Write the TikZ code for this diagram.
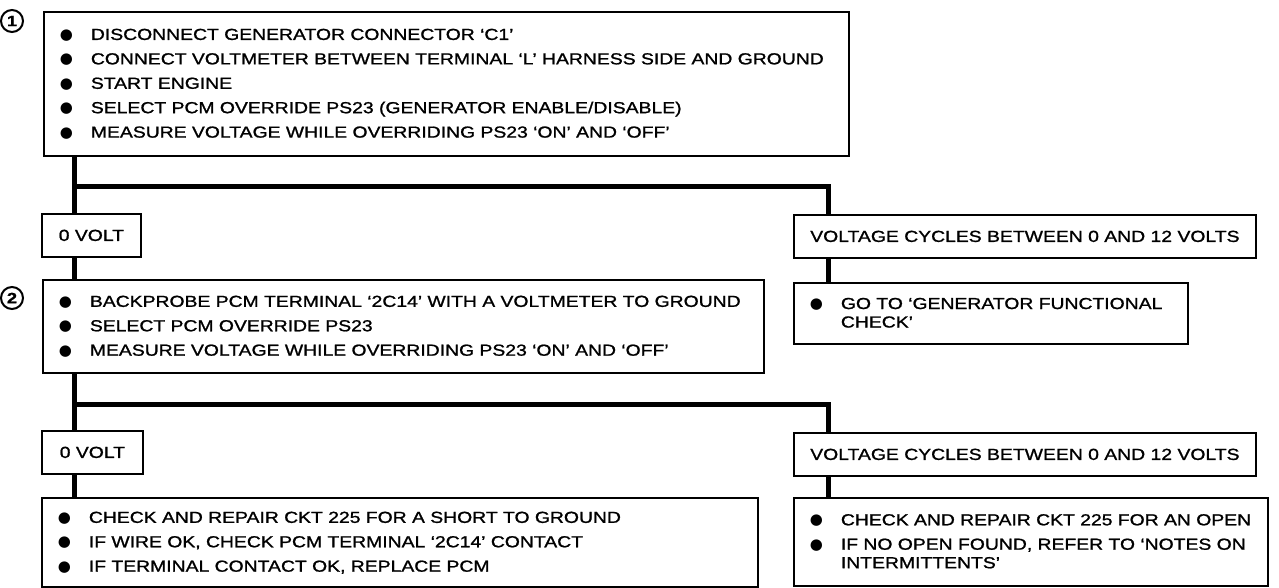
\documentclass[tikz,border=0pt]{standalone}
\usepackage{fontspec}
\setmainfont{Liberation Sans}[FakeStretch=1.21,FakeBold=1.2]
\newfontfamily\dotfont{DejaVu Sans}
\usepackage{array}
\renewcommand{\arraystretch}{1.32}
\newcommand{\blt}{\raisebox{0.6pt}{\dotfont\fontsize{15}{15}\selectfont ●}}
\newcommand{\checklist}[2]{\begin{tabular}{@{}p{31pt}@{}>{\raggedright\arraybackslash}p{#1}@{}}#2\end{tabular}}

\begin{document}
\begin{tikzpicture}[x=1pt,y=-1pt,
  font=\fontsize{16}{18.5}\selectfont,
  box/.style={draw,line width=1.8pt,anchor=north west,inner xsep=16pt,inner ysep=0pt,align=left},
  lbl/.style={draw,line width=1.8pt,anchor=north west,inner sep=0pt,minimum height=43pt},
  num/.style={draw,circle,line width=2pt,inner sep=0pt,minimum size=22pt,font=\fontsize{15}{15}\selectfont\bfseries},
  wire/.style={line width=5pt}]
\useasboundingbox (0,0) rectangle (1279,588);

\node (n1) [num] at (12,21) {1};
\node (box1) [box,text width=773pt,minimum height=144pt] at (43,11) {\checklist{760pt}{
  \blt & DISCONNECT GENERATOR CONNECTOR `C1' \\
  \blt & CONNECT VOLTMETER BETWEEN TERMINAL `L' HARNESS SIDE AND GROUND \\
  \blt & START ENGINE \\
  \blt & SELECT PCM OVERRIDE PS23 (GENERATOR ENABLE/DISABLE) \\
  \blt & MEASURE VOLTAGE WHILE OVERRIDING PS23 `ON' AND `OFF'}};

\node (volt1) [lbl,minimum width=99pt] at (41,213) {0 VOLT};
\node (cyc1) [lbl,minimum width=462pt] at (793,214) {VOLTAGE CYCLES BETWEEN 0 AND 12 VOLTS};

\node (n2) [num] at (12,298) {2};
\node (box2) [box,text width=689pt,minimum height=93pt] at (42,279) {\checklist{680pt}{
  \blt & BACKPROBE PCM TERMINAL `2C14' WITH A VOLTMETER TO GROUND \\
  \blt & SELECT PCM OVERRIDE PS23 \\
  \blt & MEASURE VOLTAGE WHILE OVERRIDING PS23 `ON' AND `OFF'}};
\node (goto) [box,text width=362pt,minimum height=61pt] at (793,282) {\checklist{360pt}{
  \blt & GO TO `GENERATOR FUNCTIONAL\newline CHECK'}};

\node (volt2) [lbl,minimum width=101pt] at (41,430) {0 VOLT};
\node (cyc2) [lbl,minimum width=462pt] at (793,432) {VOLTAGE CYCLES BETWEEN 0 AND 12 VOLTS};

\node (fix1) [box,text width=684pt,minimum height=89pt] at (41,497) {\checklist{680pt}{
  \blt & CHECK AND REPAIR CKT 225 FOR A SHORT TO GROUND \\
  \blt & IF WIRE OK, CHECK PCM TERMINAL `2C14' CONTACT \\
  \blt & IF TERMINAL CONTACT OK, REPLACE PCM}};
\node (fix2) [box,text width=442pt,minimum height=88pt] at (793,497) {\checklist{440pt}{
  \blt & CHECK AND REPAIR CKT 225 FOR AN OPEN \\
  \blt & IF NO OPEN FOUND, REFER TO `NOTES ON\newline INTERMITTENTS'}};

\coordinate (j1) at (74,187);
\coordinate (k1) at (828,187);
\coordinate (j2) at (74,404);
\coordinate (k2) at (828,404);

\draw[wire] (box1.south -| j1) -- (volt1.north -| j1);
\draw[wire] (j1) -- (k1) -- (cyc1.north -| k1);
\draw[wire] (cyc1.south -| k1) -- (goto.north -| k1);
\draw[wire] (volt1.south -| j1) -- (box2.north -| j1);
\draw[wire] (box2.south -| j2) -- (volt2.north -| j2);
\draw[wire] (j2) -- (k2) -- (cyc2.north -| k2);
\draw[wire] (cyc2.south -| k2) -- (fix2.north -| k2);
\draw[wire] (volt2.south -| j2) -- (fix1.north -| j2);
\end{tikzpicture}
\end{document}
